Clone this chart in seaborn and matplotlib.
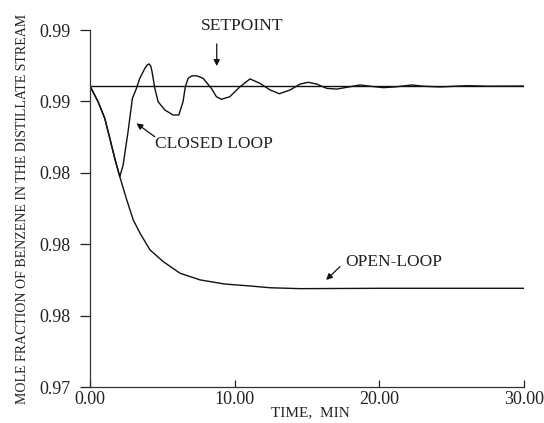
import numpy as np
import pandas as pd
import matplotlib
matplotlib.use("Agg")
import matplotlib.pyplot as plt
import seaborn as sns

# ---- data ----
closed_t = [0.00, 0.56, 1.02, 1.37, 1.71, 2.06, 2.29, 2.63, 2.93, 3.21, 3.44, 3.79,
            3.95, 4.08, 4.20, 4.29, 4.48, 4.71, 5.17, 5.74, 6.14, 6.43, 6.59, 6.78,
            7.01, 7.24, 7.47, 7.82, 8.39, 8.74, 9.08, 9.66, 10.37, 11.06, 11.75,
            12.45, 13.09, 13.83, 14.52, 15.09, 15.67, 16.37, 17.06, 17.75, 18.67,
            19.36, 20.28, 21.20, 22.24, 23.04, 24.20, 26.04, 27.65, 30.00]
closed_y = [0.98886, 0.98798, 0.98705, 0.98593, 0.98481, 0.98378, 0.98444, 0.98630,
            0.98817, 0.98873, 0.98929, 0.98985, 0.99004, 0.99010, 0.98998, 0.98966,
            0.98873, 0.98798, 0.98752, 0.98724, 0.98724, 0.98798, 0.98882, 0.98929,
            0.98942, 0.98944, 0.98941, 0.98929, 0.98873, 0.98826, 0.98812, 0.98826,
            0.98882, 0.98926, 0.98901, 0.98864, 0.98843, 0.98864, 0.98897, 0.98907,
            0.98897, 0.98873, 0.98869, 0.98879, 0.98892, 0.98885, 0.98877, 0.98882,
            0.98892, 0.98885, 0.98881, 0.98888, 0.98885, 0.98886]

open_t = [0.00, 0.56, 1.02, 1.37, 1.71, 2.06, 2.54, 2.99, 3.46, 4.15, 5.07, 6.23,
          7.61, 9.30, 11.06, 12.45, 14.52, 20.28, 30.00]
open_y = [0.98886, 0.98798, 0.98705, 0.98593, 0.98481, 0.98378, 0.98248, 0.98136,
          0.98061, 0.97968, 0.97902, 0.97837, 0.97800, 0.97777, 0.97766, 0.97756,
          0.97751, 0.97753, 0.97753]

setpoint_value = 0.98886
setpoint_t = [0.0, 30.0]

x_ticks = [0, 10, 20, 30]
x_tick_labels = ["0.00", "10.00", "20.00", "30.00"]
y_ticks = [0.972, 0.976, 0.980, 0.984, 0.988, 0.992]
y_tick_labels = ["0.97", "0.98", "0.98", "0.98", "0.99", "0.99"]

# ---- plotting ----
sns.set_style("ticks")
plt.rcParams["font.family"] = ["Liberation Serif", "DejaVu Serif"]

fig = plt.figure(figsize=(5.44, 4.23), dpi=100)
ax = fig.add_axes([90 / 544, 1 - 387 / 423, 434 / 544, 357 / 423])

lc = "#111111"
closed_df = pd.DataFrame({"t": closed_t, "y": closed_y})
open_df = pd.DataFrame({"t": open_t, "y": open_y})
sp_df = pd.DataFrame({"t": setpoint_t, "y": [setpoint_value] * len(setpoint_t)})

sns.lineplot(data=sp_df, x="t", y="y", ax=ax, color=lc, lw=1.0, sort=False)
sns.lineplot(data=open_df, x="t", y="y", ax=ax, color=lc, lw=1.0, sort=False)
sns.lineplot(data=closed_df, x="t", y="y", ax=ax, color=lc, lw=1.0, sort=False)

ax.set_xlim(0, 30)
ax.set_ylim(0.972, 0.992)
ax.set_xticks(x_ticks)
ax.set_xticklabels(x_tick_labels)
ax.set_yticks(y_ticks)
ax.set_yticklabels(y_tick_labels)
ax.tick_params(axis="x", direction="in", length=5, width=0.9, labelsize=13, pad=3, colors="#222222")
ax.tick_params(axis="y", direction="out", length=7, width=0.9, labelsize=13, pad=7, colors="#222222")
for s in ["top", "right"]:
    ax.spines[s].set_visible(False)
for s in ["left", "bottom"]:
    ax.spines[s].set_linewidth(0.9)
    ax.spines[s].set_color("#333333")

ax.set_xlabel("TIME,  MIN", fontsize=11, color="#222222")
ax.xaxis.set_label_coords(310 / 544, 1 - 413 / 423, transform=fig.transFigure)
ax.xaxis.label.set_va("center")
ax.set_ylabel("MOLE FRACTION OF BENZENE IN THE DISTILLATE STREAM", fontsize=10, color="#222222")
ax.yaxis.set_label_coords(22.5 / 544, 1 - 208.5 / 423, transform=fig.transFigure)
ax.yaxis.label.set_va("center")

arrow = dict(arrowstyle="-|>", color=lc, lw=0.9, mutation_scale=9, shrinkA=0, shrinkB=0)
ax.text(10.49, 0.99222, "SETPOINT", fontsize=12.5, ha="center", va="center", color="#222222", clip_on=False)
ax.annotate("", xy=(8.76, 0.98998), xytext=(8.76, 0.99122), arrowprops=arrow)

ax.text(8.58, 0.98561, "CLOSED LOOP", fontsize=12.5, ha="center", va="center", color="#222222")
ax.annotate("", xy=(3.21, 0.98677), xytext=(4.48, 0.98602), arrowprops=arrow)

ax.text(20.98, 0.97898, "OPEN-LOOP", fontsize=12.5, ha="center", va="center", color="#222222")
ax.annotate("", xy=(16.32, 0.97800), xytext=(17.28, 0.97874), arrowprops=arrow)

fig.savefig("out.png", dpi=100)
